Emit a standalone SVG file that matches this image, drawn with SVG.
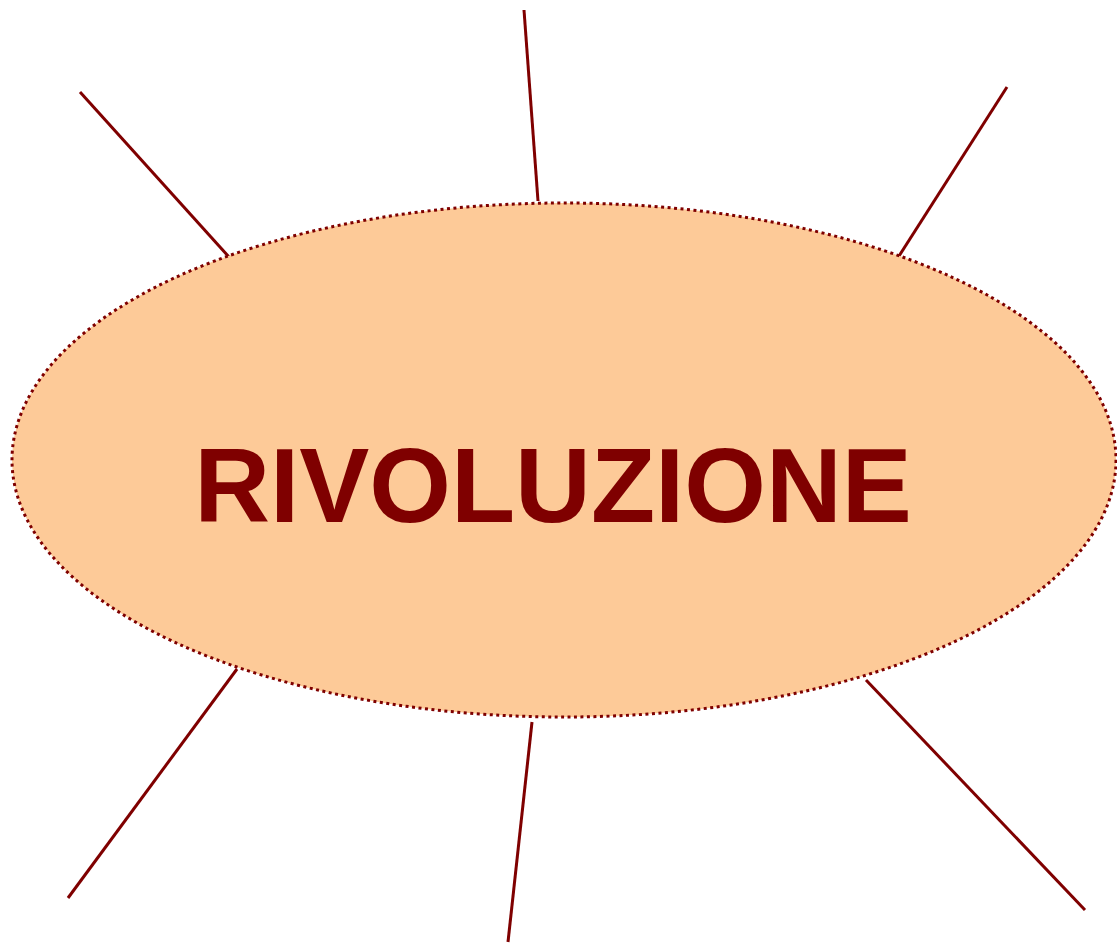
<svg xmlns="http://www.w3.org/2000/svg" width="1117" height="943" viewBox="0 0 1117 943">
<style>
.c{stroke:#7f0000;stroke-width:3;fill:none}
.t{font-family:"Liberation Sans",Arial,sans-serif;font-weight:bold;font-size:105px;fill:#7f0000}
</style>
<rect width="1117" height="943" fill="#ffffff"/>
<g id="connectors">
<line class="c" x1="80" y1="92" x2="229" y2="257"/>
<line class="c" x1="524" y1="10" x2="538" y2="201"/>
<line class="c" x1="1007" y1="87" x2="899" y2="256"/>
<line class="c" x1="237" y1="669" x2="68" y2="898"/>
<line class="c" x1="532" y1="722" x2="508" y2="942"/>
<line class="c" x1="866" y1="680" x2="1085" y2="910"/>
</g>
<g id="node-rivoluzione">
<ellipse cx="564" cy="460" rx="552" ry="257" fill="#fdca98" stroke="#7f0000" stroke-width="3" stroke-dasharray="3 3.5"/>
<text class="t" x="553" y="522" text-anchor="middle">RIVOLUZIONE</text>
</g>
</svg>
